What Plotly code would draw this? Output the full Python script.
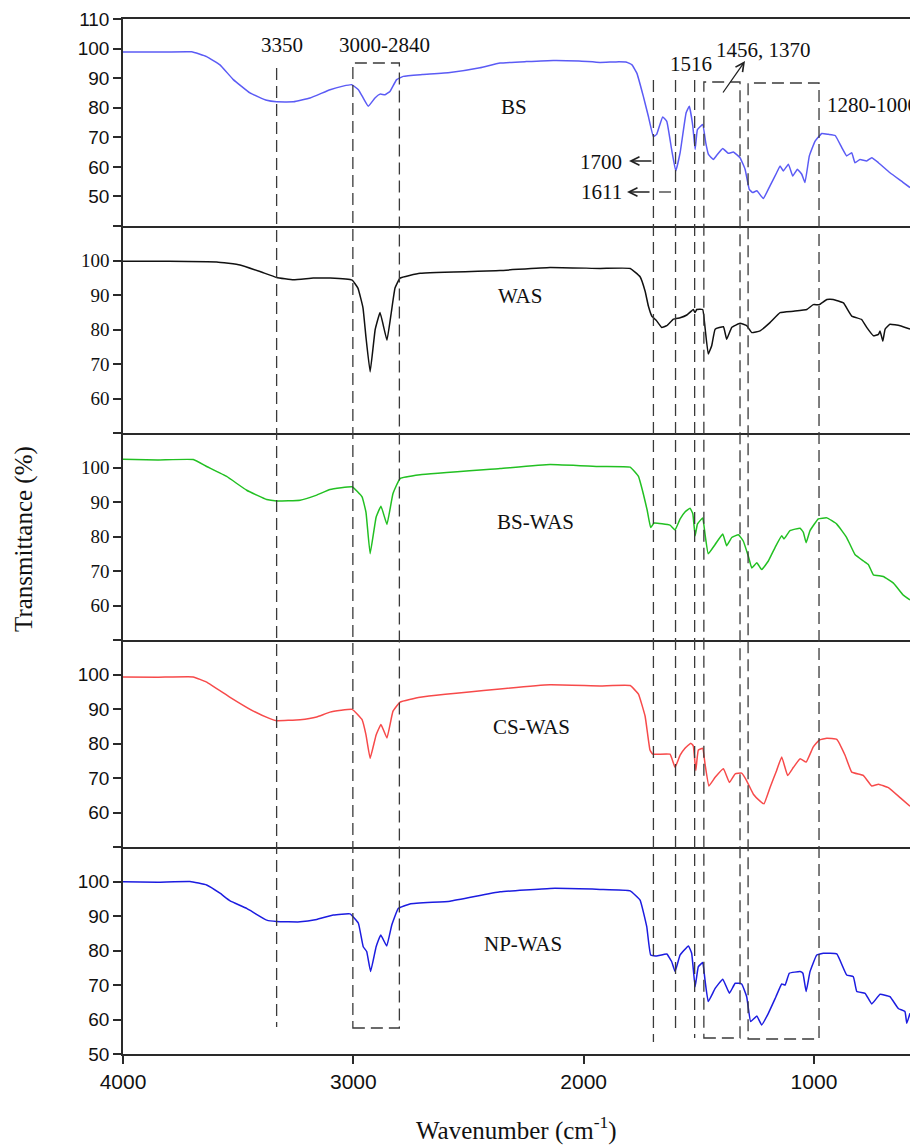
import plotly.graph_objects as go
from plotly.subplots import make_subplots

# ---------------- data ----------------
bs_wn = [4000, 3850, 3702, 3637, 3579, 3521, 3449, 3376, 3333, 3260, 3188, 3101, 3045, 3007, 2978, 2955,
         2935, 2906, 2884, 2862, 2841, 2812, 2783, 2700, 2580, 2450, 2363, 2250, 2132, 2020, 1929, 1860,
         1813, 1790, 1769, 1741, 1719, 1697, 1683, 1657, 1639, 1618, 1600, 1581, 1555, 1541, 1526, 1516,
         1506, 1483, 1470, 1458, 1437, 1422, 1396, 1372, 1350, 1321, 1299, 1281, 1266, 1248, 1220, 1191,
         1162, 1147, 1133, 1111, 1092, 1072, 1053, 1039, 1020, 995, 966, 937, 908, 879, 858, 836, 822,
         800, 771, 749, 720, 670, 612, 583]
bs_t = [98.8, 98.8, 98.9, 97.3, 94.5, 89.5, 85.0, 82.5, 82.0, 82.0, 83.3, 86.1, 87.3, 87.8, 86.1, 83.0,
        80.5, 83.3, 84.6, 84.4, 85.5, 89.5, 90.6, 91.2, 91.9, 93.5, 95.1, 95.6, 96.0, 95.8, 95.3, 95.5,
        95.4, 94.5, 91.7, 83.9, 77.1, 70.2, 71.0, 76.9, 75.4, 65.9, 58.6, 64.8, 78.3, 80.5, 73.8, 65.9,
        72.6, 74.3, 68.2, 64.2, 62.5, 63.9, 66.2, 64.6, 65.0, 63.1, 59.2, 52.4, 51.3, 51.9, 49.3, 53.6,
        58.0, 60.3, 58.6, 60.9, 56.9, 59.2, 57.5, 54.7, 63.7, 68.7, 71.3, 71.0, 70.6, 66.5, 63.7, 64.8, 61.4,
        62.5, 62.0, 63.1, 61.4, 58.0, 54.7, 53.0]

was_wn = [4000, 3800, 3593, 3492, 3405, 3333, 3260, 3174, 3101, 3005, 2980, 2958, 2945, 2927, 2905, 2884,
          2854, 2835, 2819, 2797, 2710, 2363, 2146, 1929, 1798, 1755, 1733, 1719, 1704, 1683, 1661, 1639,
          1610, 1581, 1552, 1524, 1516, 1509, 1483, 1473, 1459, 1444, 1429, 1393, 1379, 1357, 1321, 1292,
          1270, 1234, 1191, 1147, 1089, 1031, 1003, 977, 944, 916, 872, 836, 793, 771, 742, 720, 713, 701,
          691, 670, 626, 583]
was_t = [99.8, 99.8, 99.6, 98.7, 96.8, 95.1, 94.4, 94.9, 94.9, 94.3, 92.0, 86.3, 77.7, 67.7, 80.0, 84.9,
         76.9, 85.0, 92.0, 94.9, 96.3, 97.1, 98.0, 97.7, 97.7, 95.3, 91.1, 86.8, 83.9, 82.5, 80.6, 81.1,
         83.0, 83.4, 84.2, 85.8, 84.9, 85.8, 85.8, 80.6, 72.9, 75.3, 80.1, 80.8, 77.2, 80.6, 81.8, 81.1,
         79.1, 79.6, 82.0, 84.9, 85.3, 85.8, 87.2, 87.2, 88.7, 88.7, 87.7, 83.9, 82.9, 80.6, 78.2, 78.6, 79.6, 76.6,
         80.1, 81.5, 81.1, 80.1]

bswas_wn = [4000, 3850, 3695, 3637, 3550, 3463, 3376, 3333, 3231, 3159, 3101, 3005, 2962, 2945, 2927, 2901,
            2880, 2854, 2828, 2797, 2710, 2363, 2146, 1929, 1798, 1762, 1741, 1724, 1709, 1694, 1625, 1603,
            1581, 1560, 1538, 1526, 1516, 1506, 1483, 1473, 1459, 1429, 1396, 1379, 1357, 1328, 1307, 1285,
            1270, 1248, 1227, 1198, 1169, 1140, 1130, 1104, 1060, 1046, 1034, 1017, 981, 944, 901, 858, 822,
            785, 764, 742, 699, 655, 612, 583]
bswas_t = [102.4, 102.2, 102.3, 100.3, 97.4, 93.4, 90.7, 90.3, 90.5, 92.0, 93.6, 94.4, 91.5, 87.0, 75.0, 85.6,
           88.8, 83.5, 92.4, 96.8, 97.9, 99.7, 100.9, 100.3, 100.1, 97.4, 92.4, 87.6, 82.6, 83.9, 83.3, 81.9,
           85.1, 87.1, 88.2, 86.6, 80.2, 83.6, 85.4, 80.7, 75.0, 77.7, 80.7, 77.3, 79.7, 80.5, 78.7, 74.3,
           70.9, 72.4, 70.4, 72.9, 76.8, 80.2, 79.3, 81.7, 82.4, 81.2, 78.2, 81.7, 85.1, 85.4, 83.6, 79.7, 74.8,
           72.9, 71.9, 68.9, 68.4, 66.5, 63.0, 61.6]

cswas_wn = [4000, 3850, 3695, 3637, 3535, 3434, 3362, 3333, 3231, 3159, 3101, 3005, 2962, 2945, 2927, 2901,
            2880, 2854, 2828, 2797, 2710, 2363, 2146, 1929, 1798, 1762, 1733, 1712, 1700, 1625, 1603, 1581,
            1560, 1535, 1524, 1513, 1502, 1483, 1473, 1456, 1429, 1393, 1367, 1342, 1314, 1292, 1263, 1234,
            1217, 1191, 1162, 1140, 1114, 1089, 1060, 1034, 1003, 977, 944, 901, 865, 836, 785, 749, 720,
            677, 626, 583]
cswas_t = [99.3, 99.2, 99.3, 97.8, 93.4, 89.4, 87.2, 86.6, 86.9, 87.7, 89.1, 89.9, 86.9, 82.5, 75.7, 82.5,
           85.5, 81.6, 89.3, 92.0, 93.4, 95.8, 97.0, 96.7, 96.8, 94.3, 87.9, 78.1, 76.9, 76.9, 73.1, 76.6,
           78.6, 80.1, 79.3, 72.2, 78.1, 78.6, 74.1, 67.7, 70.2, 72.7, 68.7, 71.2, 71.4, 69.2, 65.3, 63.3,
           62.5, 67.2, 72.2, 76.1, 70.7, 73.1, 75.6, 74.6, 79.0, 81.0, 81.5, 81.2, 76.6, 71.7, 70.7, 67.7, 68.2,
           67.2, 64.3, 61.8]

npwas_wn = [4000, 3850, 3709, 3637, 3579, 3535, 3463, 3376, 3333, 3231, 3159, 3087, 3014, 2978, 2957, 2942,
            2925, 2901, 2881, 2855, 2833, 2805, 2754, 2580, 2363, 2146, 1929, 1798, 1755, 1726, 1709, 1683,
            1639, 1618, 1603, 1581, 1545, 1531, 1516, 1502, 1483, 1473, 1459, 1429, 1396, 1367, 1342, 1314,
            1292, 1275, 1248, 1227, 1198, 1165, 1140, 1125, 1107, 1060, 1048, 1034, 1017, 988, 959, 901, 858,
            829, 814, 778, 749, 713, 670, 634, 605, 597, 583]
npwas_t = [99.9, 99.8, 100.0, 99.0, 96.6, 94.4, 92.2, 88.8, 88.4, 88.3, 89.0, 90.3, 90.6, 87.9, 81.1, 79.7,
           73.9, 81.1, 84.5, 81.3, 87.4, 92.2, 93.5, 94.3, 97.0, 98.0, 97.7, 97.3, 94.6, 86.9, 78.7, 78.4,
           79.0, 76.8, 73.9, 78.7, 81.3, 79.2, 69.5, 75.3, 76.5, 71.4, 65.2, 69.0, 71.7, 67.6, 70.5, 70.3,
           66.6, 59.4, 61.0, 58.4, 61.8, 66.6, 70.3, 70.0, 73.4, 73.9, 73.4, 68.1, 73.9, 78.7, 79.2, 79.0, 72.9,
           72.4, 68.1, 67.6, 64.5, 67.3, 66.6, 63.2, 62.3, 58.9, 61.8]

sample_names = ["BS", "WAS", "BS-WAS", "CS-WAS", "NP-WAS"]
x_ticks = [4000, 3000, 2000, 1000]

# ---------------- layout helpers ----------------
W, H = 910, 1148
L, R, T, B = 123, 910, 19, 1054


def px(xp):
    return (xp - L) / (R - L)


def py(yp):
    return (B - yp) / (B - T)


SERIF = "Liberation Serif"
SANS = "Liberation Sans"
AX = "#2a2a2a"

series = [
    (bs_wn, bs_t, "#5b5bf5", [40, 110], SANS, list(range(40, 111, 10)), [""] + [str(v) for v in range(50, 111, 10)]),
    (was_wn, was_t, "#111111", [50, 110], SERIF, list(range(50, 111, 10)), [""] + [str(v) for v in range(60, 101, 10)] + [""]),
    (bswas_wn, bswas_t, "#22c022", [50, 110], SERIF, list(range(50, 111, 10)), [""] + [str(v) for v in range(60, 101, 10)] + [""]),
    (cswas_wn, cswas_t, "#f74a4a", [50, 110], SANS, list(range(50, 111, 10)), [""] + [str(v) for v in range(60, 101, 10)] + [""]),
    (npwas_wn, npwas_t, "#1c1ce0", [50, 110], SANS, list(range(50, 111, 10)), [str(v) for v in range(50, 101, 10)] + [""]),
]

fig = make_subplots(rows=5, cols=1, shared_xaxes=True, vertical_spacing=0)

for i, (wn, t, col, yr, fam, tv, tt) in enumerate(series, start=1):
    assert len(wn) == len(t)
    fig.add_trace(go.Scatter(x=wn, y=t, mode="lines", name=sample_names[i - 1],
                             line=dict(color=col, width=1.5, shape="spline", smoothing=0.3),
                             showlegend=False), row=i, col=1)
    fig.update_yaxes(range=yr, tickvals=tv, ticktext=tt, row=i, col=1,
                     showline=True, linecolor=AX, linewidth=1.5, ticks="outside", ticklen=8,
                     tickwidth=1.5, tickcolor=AX, showgrid=False, zeroline=False,
                     tickfont=dict(family=fam, size=19, color="#111"))
    fig.update_xaxes(range=[4000, 583], row=i, col=1, showline=True, linecolor=AX, linewidth=1.5,
                     showgrid=False, zeroline=False)

for i in range(1, 5):
    fig.update_xaxes(showticklabels=False, ticks="", row=i, col=1)
fig.update_xaxes(mirror=True, row=1, col=1)  # top border of the first panel
fig.update_xaxes(tickvals=x_ticks, ticks="outside", ticklen=8, tickwidth=1.5, tickcolor=AX,
                 tickfont=dict(family=SANS, size=21, color="#111"), row=5, col=1)

# ---------------- dashed guide lines / boxes ----------------
dash = dict(color="#3a3a3a", width=1.3, dash="12px,6px")
line_marks = [(3333, 68, 1027), (1697, 80, 1042), (1601, 80, 1033), (1518, 80, 1038)]
box_marks = [(3002, 2800, 63, 1028), (1478, 1321, 82, 1038), (1286, 978, 83, 1039)]
shapes = []
for x, ytop, ybot in line_marks:
    shapes.append(dict(type="line", xref="x", yref="paper", x0=x, x1=x, y0=py(ytop), y1=py(ybot), line=dash))
for x0, x1, ytop, ybot in box_marks:
    shapes.append(dict(type="rect", xref="x", yref="paper", x0=x0, x1=x1, y0=py(ybot), y1=py(ytop), line=dash))
# short dashed arrow segment for 1611
shapes.append(dict(type="line", xref="paper", yref="paper", x0=px(659), x1=px(671), y0=py(192), y1=py(192),
                   line=dict(color="#3a3a3a", width=1.3)))

# ---------------- text ----------------
ann = []


def text(s, xp, yp, size=21, xanchor="center", angle=0):
    ann.append(dict(text=s, x=px(xp), y=py(yp), xref="paper", yref="paper", showarrow=False,
                    xanchor=xanchor, yanchor="middle", textangle=angle,
                    font=dict(family=SERIF, size=size, color="#111")))


def arrow(x_head, y_head, x_tail, y_tail):
    ann.append(dict(text="", x=px(x_head), y=py(y_head), xref="paper", yref="paper",
                    ax=x_tail - x_head, ay=y_tail - y_head, axref="pixel", ayref="pixel",
                    showarrow=True, arrowhead=5, arrowsize=1.3, arrowwidth=1.3, arrowcolor="#222"))


label_pos = [(514, 107), (520, 296), (535, 522), (531, 727), (523, 944)]
for name, (xp, yp) in zip(sample_names, label_pos):
    text(name, xp, yp)

text("3350", 282, 45)
text("3000-2840", 384, 45)
text("1516", 691, 64)
text("1456, 1370", 763, 50)
text("1280-1000", 825, 105, xanchor="left")
text("1700", 624, 162, xanchor="right")
text("1611", 624, 192, xanchor="right")
arrow(629, 161, 653, 161)
arrow(627, 192, 651, 192)
arrow(745, 61, 722, 94)

text("Transmittance (%)", 24, 539, size=25, angle=-90)
text("Wavenumber (cm<sup>-1</sup>)", 516, 1128, size=25)

fig.update_layout(width=W, height=H, margin=dict(l=L, r=W - R, t=T, b=H - B),
                  paper_bgcolor="white", plot_bgcolor="white", shapes=shapes, annotations=ann,
                  showlegend=False)

fig.write_html("out.html")
